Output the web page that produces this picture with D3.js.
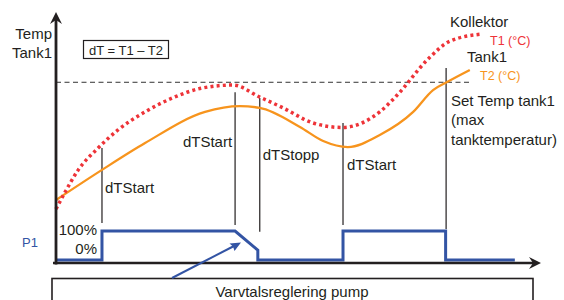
<!DOCTYPE html>
<html>
<head>
<meta charset="utf-8">
<script src="https://cdn.jsdelivr.net/npm/d3@7"></script>
<style>
    body { margin: 0; background: #fff; }
    svg text { font-family: "Liberation Sans", Arial, sans-serif; fill: #231f20; }
</style>
</head>
<body>
<svg id="chart" width="564" height="300"></svg>
<script>
// Collector temperature T1 (time 0..100, temp 0..100)
const t1Time = [0, 1.9, 4.6, 8.7, 12.8, 18.4, 24, 30.2, 36.6, 42.1, 46.9, 53.1, 59.1, 66.9, 70.5, 76.7, 81.4, 88];
const t1Temp = [21.5, 28.3, 37.1, 45.8, 53, 60.2, 65.7, 69.7, 70.9, 66.1, 61.8, 55.8, 54, 60.2, 66.9, 80.9, 88.4, 91.2];

// Tank temperature T2
const t2Time = [0, 9.5, 18.4, 30.8, 38, 42.1, 50.4, 55.2, 60.3, 66.9, 73.8, 77.9, 80.8, 85.5];
const t2Temp = [25.1, 37.1, 47.8, 60.2, 62.5, 61.8, 54.2, 48.6, 46.2, 51, 60.2, 68.9, 72.1, 76.9];

// Pump P1 speed (0..100 %)
const pumpTime  = [0, 9.5, 9.5, 37, 41.7, 41.7, 59.3, 59.3, 80.5, 80.5, 94.8];
const pumpLevel = [0, 0, 100, 100, 34, 0, 0, 100, 100, 0, 0];

// dT switch points
const markerTime   = [9.5, 37, 42.1, 59.3, 80.6];
const markerTop    = [45.8, 68, 65.7, 55.8, 77.7];   // temp units
const markerBottom = [128, 121, 97, 121, 107];       // pump units
const markerLabels = ["dTStart", "dTStart", "dTStopp", "dTStart", ""];

const setTemp = 72;

const ink = "#231f20";
const red = "#ee3338";
const orange = "#f7941d";
const blue = "#3354a4";

const svg = d3.select("#chart");

const x = d3.scaleLinear().domain([0, 100]).range([56, 540]);
const y = d3.scaleLinear().domain([0, 100]).range([263, 12]);
const yPump = d3.scaleLinear().domain([0, 100]).range([260, 231]);

const t1 = t1Time.map((t, i) => [t, t1Temp[i]]);
const t2 = t2Time.map((t, i) => [t, t2Temp[i]]);
const pump = pumpTime.map((t, i) => [t, pumpLevel[i]]);

// set temp dashed line
svg.append("line")
    .attr("x1", x(0)).attr("x2", x(86))
    .attr("y1", y(setTemp)).attr("y2", y(setTemp))
    .attr("stroke", "#333").attr("stroke-width", 1)
    .attr("stroke-dasharray", "5,3.5");

// markers
const markers = markerTime.map((t, i) => ({t, top: markerTop[i], bottom: markerBottom[i], label: markerLabels[i]}));
svg.selectAll(".marker")
    .data(markers)
    .join("line")
    .attr("class", "marker")
    .attr("x1", d => x(d.t)).attr("x2", d => x(d.t))
    .attr("y1", d => y(d.top)).attr("y2", d => yPump(d.bottom))
    .attr("stroke", ink).attr("stroke-width", 1.2);

// marker labels (offsets picked by eye)
const labelPos = [
    {dx: 3, y: 193, anchor: "start"},
    {dx: -3, y: 147, anchor: "end"},
    {dx: 3, y: 160, anchor: "start"},
    {dx: 4, y: 170, anchor: "start"}
];
svg.selectAll(".mlabel")
    .data(markers.filter(d => d.label))
    .join("text")
    .attr("class", "mlabel")
    .attr("x", (d, i) => x(d.t) + labelPos[i].dx)
    .attr("y", (d, i) => labelPos[i].y)
    .attr("text-anchor", (d, i) => labelPos[i].anchor)
    .attr("font-size", 15)
    .text(d => d.label);

// curves
const curve = d3.line()
    .x(d => x(d[0]))
    .y(d => y(d[1]))
    .curve(d3.curveMonotoneX);

svg.append("path")
    .attr("d", curve(t2))
    .attr("fill", "none")
    .attr("stroke", orange)
    .attr("stroke-width", 2.3);

svg.append("path")
    .attr("d", curve(t1))
    .attr("fill", "none")
    .attr("stroke", red)
    .attr("stroke-width", 3.5)
    .attr("stroke-dasharray", "3,3.2");

// pump
svg.append("path")
    .attr("d", d3.line().x(d => x(d[0])).y(d => yPump(d[1]))(pump))
    .attr("fill", "none")
    .attr("stroke", blue)
    .attr("stroke-width", 3)
    .attr("stroke-linejoin", "miter");

// axes
function arrowHead(px, py, dir) {
    // dir: "up" or "right"
    const p = dir === "up"
        ? [[px, py], [px + 6, py + 12], [px, py + 8], [px - 6, py + 12]]
        : [[px, py], [px - 12, py - 6], [px - 8, py], [px - 12, py + 6]];
    svg.append("path").attr("d", "M" + p.join("L") + "Z").attr("fill", ink);
}
svg.append("line")
    .attr("x1", 56).attr("x2", 56).attr("y1", y(0) + 1.5).attr("y2", 18)
    .attr("stroke", ink).attr("stroke-width", 2.8);
arrowHead(56, 12, "up");
svg.append("line")
    .attr("x1", 53).attr("x2", 534).attr("y1", y(0)).attr("y2", y(0))
    .attr("stroke", ink).attr("stroke-width", 2.5);
arrowHead(541, y(0), "right");

// texts
const txt = (s, px, py, opts = {}) => svg.append("text")
    .attr("x", px).attr("y", py)
    .attr("font-size", opts.size || 15)
    .attr("text-anchor", opts.anchor || "start")
    .style("fill", opts.color || ink)
    .text(s);

txt("Temp", 52, 39, {anchor: "end"});
txt("Tank1", 52, 58, {anchor: "end"});

svg.append("rect")
    .attr("x", 83.5).attr("y", 40.5).attr("width", 85).attr("height", 18)
    .attr("fill", "none").attr("stroke", ink).attr("stroke-width", 1.2);
txt("dT = T1 \u2013 T2", 126, 54.5, {anchor: "middle", size: 13});

txt("Kollektor", 450, 27);
txt("T1 (\u00b0C)", 490, 45, {size: 12.5, color: red});
txt("Tank1", 467, 62);
txt("T2 (\u00b0C)", 480, 80, {size: 12.5, color: orange});

txt("Set Temp tank1", 451, 106);
txt("(max", 451, 125);
txt("tanktemperatur)", 451, 145);

txt("100%", 97, 235, {anchor: "end"});
txt("0%", 97, 254, {anchor: "end"});
txt("P1", 22, 247, {size: 13, color: blue});

// bottom box with arrow to the ramp
svg.append("rect")
    .attr("x", 52).attr("y", 278.5).attr("width", 481).attr("height", 40)
    .attr("fill", "#fff").attr("stroke", ink).attr("stroke-width", 1.6);
txt("Varvtalsreglering pump", 292, 297, {anchor: "middle"});

svg.append("line")
    .attr("x1", 172).attr("y1", 278).attr("x2", 234).attr("y2", 246)
    .attr("stroke", blue).attr("stroke-width", 2);
svg.append("path")
    .attr("d", "M241,242.5L229.5,243.5L233,246.5L234.5,251Z")
    .attr("fill", blue);
</script>
</body>
</html>
